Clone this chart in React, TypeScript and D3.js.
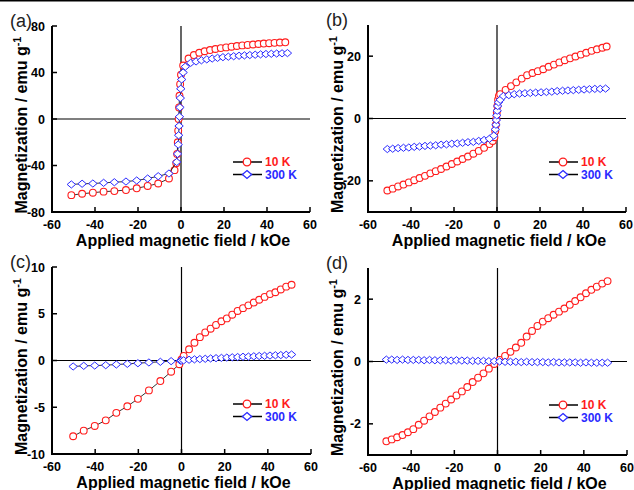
import React from 'react';
import * as d3 from 'd3';

const W = 634;
const H = 490;
const FONT = "'Liberation Sans', Arial, Helvetica, sans-serif";

const fieldTicks = [-60, -40, -20, 0, 20, 40, 60];

// (a)
const aRedH = [-51, -46, -41, -36, -31, -25.6, -20.6, -15.5, -10.6, -5.6, -3, -2.2, -1.8, -1.5, -1.3, -1.1, -0.9, -0.7, -0.4, 0, 1, 3.5, 6, 8.5, 11, 13.5, 16, 18.5, 21, 23.5, 26, 28.5, 31, 33.5, 36, 38.5, 41, 43.5, 46, 48.5];
const aRedM = [-65.5, -64.3, -63.4, -62.5, -62, -61.1, -59.6, -57.6, -55.5, -51.2, -44, -38, -30, -20, -10, 0, 10, 20, 30, 38, 46, 52, 55, 57, 58.3, 59.3, 60.2, 61, 61.6, 62.2, 62.8, 63.3, 63.7, 64.1, 64.5, 64.9, 65.2, 65.5, 65.8, 66];
const aBlueH = [-51, -46, -41, -36, -31, -25.6, -20.6, -15.5, -10.6, -5.6, -2, -1.6, -1.3, -1.1, -0.9, -0.7, -0.5, -0.3, -0.1, 0.3, 1, 2, 4.5, 7, 9.5, 12, 14.5, 17, 19.5, 22, 24.5, 27, 29.5, 32, 34.5, 37, 39.5, 42, 44.5, 47, 49.5];
const aBlueM = [-56.3, -55.7, -55.5, -54.9, -54.4, -53.8, -52.9, -51.2, -49.2, -46.9, -37, -30, -22, -14, -6, 2, 10, 18, 26, 34, 40, 45, 48.3, 49.5, 50.5, 51.3, 52, 52.6, 53.2, 53.6, 54, 54.4, 54.7, 55, 55.3, 55.6, 55.9, 56.1, 56.3, 56.5, 56.7];

// (b)
const bRedH = [-51, -48.5, -46, -43.5, -41, -38.5, -36, -33.5, -31, -28.5, -26, -23.5, -21, -18.5, -16, -13.5, -11, -8.5, -6, -3.5, -2, -1.2, -0.8, -0.5, -0.3, -0.1, 0.2, 0.5, 0.9, 1.5, 4, 6.5, 9, 11.5, 14, 16.5, 19, 21.5, 24, 26.5, 29, 31.5, 34, 36.5, 39, 41.5, 44, 46.5, 49, 51];
const bRedM = [-23.1, -22.5, -21.8, -21.2, -20.5, -19.8, -19.1, -18.4, -17.6, -16.9, -16.2, -15.4, -14.6, -13.8, -13, -12.2, -11.3, -10.4, -9.4, -8.2, -7.2, -6, -4, -2, 0, 2, 4, 6, 7.2, 7.8, 9.2, 10.4, 11.6, 12.8, 13.9, 14.6, 15.2, 15.8, 16.6, 17.3, 18, 18.7, 19.3, 19.9, 20.5, 21.1, 21.7, 22.2, 22.7, 23.1];
const bBlueH = [-51, -48.5, -46, -43.5, -41, -38.5, -36, -33.5, -31, -28.5, -26, -23.5, -21, -18.5, -16, -13.5, -11, -8.5, -6, -3.5, -1.5, -0.8, -0.5, -0.3, -0.1, 0.1, 0.3, 0.7, 1.5, 3, 5.5, 8, 10.5, 13, 15.5, 18, 20.5, 23, 25.5, 28, 30.5, 33, 35.5, 38, 40.5, 43, 45.5, 48, 50.5];
const bBlueM = [-9.8, -9.7, -9.5, -9.4, -9.3, -9.1, -9.0, -8.8, -8.7, -8.6, -8.4, -8.3, -8.1, -8.0, -7.8, -7.6, -7.5, -7.2, -6.9, -6.5, -5.5, -3.5, -2, -0.5, 1, 2.5, 4, 5.2, 6.0, 7.2, 7.5, 7.8, 8.0, 8.1, 8.2, 8.3, 8.4, 8.5, 8.6, 8.8, 8.9, 9.0, 9.1, 9.2, 9.3, 9.4, 9.5, 9.5, 9.6];

// (c)
const cRedH = [-50.2, -45.3, -40.2, -35.1, -30.2, -25.1, -20.2, -15.1, -9.8, -4.8, -1, 0, 1, 3.5, 6, 8.5, 11, 13.5, 16, 18.5, 21, 23.5, 26, 28.5, 31, 33.5, 36, 38.5, 41, 43.5, 46, 48.5, 51];
const cRedM = [-8.1, -7.5, -7.0, -6.4, -5.6, -4.9, -4.1, -3.2, -2.2, -1.2, -0.4, 0.1, 0.5, 1.2, 1.9, 2.5, 3.0, 3.4, 3.8, 4.2, 4.5, 4.9, 5.3, 5.6, 5.9, 6.2, 6.5, 6.8, 7.1, 7.3, 7.6, 7.9, 8.1];
const cBlueH = [-50.2, -45.3, -40.2, -35.1, -30.2, -25.1, -20.2, -15.1, -9.8, -4.8, -0.5, 0, 1, 3.5, 6, 8.5, 11, 13.5, 16, 18.5, 21, 23.5, 26, 28.5, 31, 33.5, 36, 38.5, 41, 43.5, 46, 48.5, 51];
const cBlueM = [-0.64, -0.57, -0.54, -0.5, -0.43, -0.36, -0.29, -0.21, -0.14, -0.07, -0.02, 0, 0.02, 0.08, 0.12, 0.15, 0.18, 0.22, 0.25, 0.28, 0.31, 0.34, 0.37, 0.4, 0.42, 0.45, 0.48, 0.5, 0.53, 0.56, 0.58, 0.61, 0.64];

// (d)
const dH = [-51.5, -49, -46.5, -44, -41.5, -39, -36.5, -34, -31.5, -29, -26.5, -24, -21.5, -19, -16.5, -14, -11.5, -9, -6.5, -4, -1.5, 1, 3.5, 6, 8.5, 11, 13.5, 16, 18.5, 21, 23.5, 26, 28.5, 31, 33.5, 36, 38.5, 41, 43.5, 46, 48.5, 51];
const dRedM = [-2.56, -2.5, -2.43, -2.36, -2.27, -2.17, -2.03, -1.9, -1.76, -1.62, -1.48, -1.35, -1.22, -1.09, -0.96, -0.82, -0.66, -0.52, -0.38, -0.23, -0.08, 0.05, 0.18, 0.31, 0.45, 0.6, 0.8, 0.98, 1.14, 1.28, 1.39, 1.5, 1.6, 1.7, 1.82, 1.94, 2.06, 2.19, 2.3, 2.4, 2.5, 2.58];
const dBlueM = [0.06, 0.06, 0.05, 0.06, 0.05, 0.05, 0.05, 0.04, 0.05, 0.04, 0.04, 0.04, 0.03, 0.04, 0.03, 0.03, 0.02, 0.02, 0.02, 0.01, 0.01, 0, -0.01, -0.01, -0.01, -0.02, -0.01, -0.02, -0.02, -0.02, -0.03, -0.02, -0.03, -0.03, -0.03, -0.03, -0.04, -0.03, -0.04, -0.04, -0.04, -0.04];

const RED = '#ff1c1c';
const BLUE = '#2a2aff';

const panels = [
  { tag: '(a)', x0: 52, x1: 310, y0: 26, y1: 212, yDomain: [-80, 80], yTicks: [-80, -40, 0, 40, 80], red: [aRedH, aRedM], blue: [aBlueH, aBlueM] },
  { tag: '(b)', x0: 368, x1: 626, y0: 25, y1: 212, yDomain: [-30, 30], yTicks: [-20, 0, 20], red: [bRedH, bRedM], blue: [bBlueH, bBlueM] },
  { tag: '(c)', x0: 52, x1: 311, y0: 267, y1: 454, yDomain: [-10, 10], yTicks: [-10, -5, 0, 5, 10], red: [cRedH, cRedM], blue: [cBlueH, cBlueM] },
  { tag: '(d)', x0: 368, x1: 627, y0: 268, y1: 455, yDomain: [-3, 3], yTicks: [-2, 0, 2], red: [dH, dRedM], blue: [dH, dBlueM] },
];

const diamond = (cx: number, cy: number, w = 4.2, h = 3.6) =>
  `M${cx},${cy - h}L${cx + w},${cy}L${cx},${cy + h}L${cx - w},${cy}Z`;

function Panel({ p }: { p: any }) {
  const x = d3.scaleLinear().domain([-60, 60]).range([p.x0, p.x1]);
  const y = d3.scaleLinear().domain(p.yDomain).range([p.y1, p.y0]);
  const line = d3.line<[number, number]>();
  const pts = (hs: number[], ms: number[]): [number, number][] => hs.map((h, i) => [x(h), y(ms[i])]);
  const red = pts(p.red[0], p.red[1]);
  const blue = pts(p.blue[0], p.blue[1]);
  const lx = p.x0 + 181;
  const ly1 = p.y1 - 50;
  const ly2 = p.y1 - 37.5;

  return (
    <g fontFamily={FONT}>
      <text x={p.x0 - 42} y={p.y0 + 1} fontSize={18} fill="#222">{p.tag}</text>

      {/* zero lines */}
      <line x1={p.x0} x2={p.x1} y1={y(0)} y2={y(0)} stroke="#000" strokeWidth={1.2} />
      <line x1={x(0)} x2={x(0)} y1={p.y0} y2={p.y1} stroke="#000" strokeWidth={1.2} />

      {/* axes */}
      <line x1={p.x0} x2={p.x0} y1={p.y0} y2={p.y1 + 1} stroke="#000" strokeWidth={2} />
      <line x1={p.x0 - 1} x2={p.x1} y1={p.y1} y2={p.y1} stroke="#000" strokeWidth={2} />
      {fieldTicks.map((t) => (
        <g key={'x' + t}>
          <line x1={x(t)} x2={x(t)} y1={p.y1} y2={p.y1 - 5} stroke="#000" strokeWidth={1.5} />
          <text x={x(t)} y={p.y1 + 17} textAnchor="middle" fontSize={12.5} fontWeight="bold">{t}</text>
        </g>
      ))}
      {p.yTicks.map((t: number) => (
        <g key={'y' + t}>
          <line x1={p.x0} x2={p.x0 + 5} y1={y(t)} y2={y(t)} stroke="#000" strokeWidth={1.5} />
          <text x={p.x0 - 7} y={y(t)} dy="0.36em" textAnchor="end" fontSize={12.5} fontWeight="bold">{t}</text>
        </g>
      ))}

      <text x={(p.x0 + p.x1) / 2 + 2} y={p.y1 + 33.5} textAnchor="middle" fontSize={16} fontWeight="bold">
        Applied magnetic field / kOe
      </text>
      <text transform={`translate(${p.x0 - 25},${(p.y0 + p.y1) / 2 + 6}) rotate(-90)`} textAnchor="middle" fontSize={16} fontWeight="bold">
        Magnetization / emu g<tspan fontSize={11} dy={-6}>-1</tspan>
      </text>

      {/* 10 K */}
      <path d={line(red) ?? ''} fill="none" stroke="#000" strokeWidth={0.8} />
      {red.map(([cx, cy], i) => (
        <circle key={'r' + i} cx={cx} cy={cy} r={3.4} fill="#fff" stroke={RED} strokeWidth={1.1} />
      ))}
      {/* 300 K */}
      <path d={line(blue) ?? ''} fill="none" stroke="#000" strokeWidth={0.8} />
      {blue.map(([cx, cy], i) => (
        <path key={'b' + i} d={diamond(cx, cy)} fill="#fff" stroke={BLUE} strokeWidth={1} />
      ))}

      {/* legend */}
      <line x1={lx} x2={lx + 29} y1={ly1} y2={ly1} stroke="#000" strokeWidth={1.5} />
      <circle cx={lx + 14} cy={ly1} r={3.8} fill="#fff" stroke={RED} strokeWidth={1.3} />
      <text x={lx + 32} y={ly1} dy="0.36em" fontSize={12} fontWeight="bold" fill={RED}>10 K</text>
      <line x1={lx} x2={lx + 29} y1={ly2} y2={ly2} stroke="#000" strokeWidth={1.5} />
      <path d={diamond(lx + 14, ly2, 4.6, 4)} fill="#fff" stroke={BLUE} strokeWidth={1.3} />
      <text x={lx + 32} y={ly2} dy="0.36em" fontSize={12} fontWeight="bold" fill={BLUE}>300 K</text>
    </g>
  );
}

export default function App() {
  return (
    <svg width={W} height={H} style={{ position: 'absolute', left: 0, top: 0, background: '#fff' }}>
      <rect x={0} y={0} width={W} height={H} fill="#fff" />
      <rect x={0} y={0} width={W} height={1.5} fill="#000" />
      {panels.map((p) => (
        <Panel key={p.tag} p={p} />
      ))}
    </svg>
  );
}
